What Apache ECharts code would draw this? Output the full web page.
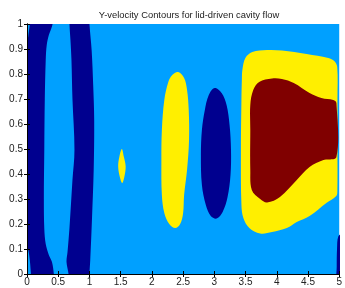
<!DOCTYPE html>
<html lang="en">
<head>
    <meta charset="UTF-8">
    <title>Y-velocity Contours</title>
    <script src="https://cdn.jsdelivr.net/npm/echarts@6/dist/echarts.min.js"></script>
    <style>
        html, body { margin: 0; padding: 0; background: #fff; }
        #main { width: 345px; height: 288px; }
    </style>
</head>
<body>
    <div id="main"></div>
    <script>
        // contour regions, in data coords [x, y]
        var xTicks = [0, 0.5, 1, 1.5, 2, 2.5, 3, 3.5, 4, 4.5, 5];
        var yTicks = [0, 0.1, 0.2, 0.3, 0.4, 0.5, 0.6, 0.7, 0.8, 0.9, 1];

        var leftBand = [[0.05, 1.05], [0.43, 1.05], [0.41, 1.0], [0.38, 0.976], [0.35, 0.956], [0.316, 0.916],
            [0.3, 0.856], [0.285, 0.7], [0.277, 0.5], [0.27, 0.3], [0.277, 0.18], [0.3, 0.12], [0.35, 0.076],
            [0.4, 0.048], [0.43, 0], [0.44, -0.05], [0.07, -0.05], [0.063, 0], [0.035, 0.076], [0, 0.11],
            [-0.05, 0.12], [-0.05, 0.92], [0, 0.93], [0.03, 0.97], [0.045, 1.0]];
        var secondBand = [[0.68, 1.05], [0.99, 1.05], [1.0, 1], [1.036, 0.892], [1.06, 0.756], [1.076, 0.616],
            [1.068, 0.416], [1.04, 0.216], [1.013, 0.056], [1.0, 0], [0.995, -0.05], [0.67, -0.05], [0.665, 0],
            [0.633, 0.048], [0.649, 0.088], [0.68, 0.184], [0.728, 0.376], [0.76, 0.496], [0.728, 0.7],
            [0.712, 0.856], [0.696, 0.936], [0.68, 1]];
        var smallSpot = [[1.519, 0.5], [1.55, 0.47], [1.58, 0.43], [1.56, 0.39], [1.525, 0.364], [1.49, 0.385],
            [1.46, 0.43], [1.48, 0.47]];
        var yellowLens = [[2.421, 0.808], [2.516, 0.784], [2.563, 0.736], [2.59, 0.656], [2.595, 0.536],
            [2.563, 0.416], [2.516, 0.316], [2.5, 0.244], [2.453, 0.2], [2.373, 0.184], [2.278, 0.2],
            [2.199, 0.244], [2.16, 0.316], [2.152, 0.456], [2.16, 0.576], [2.199, 0.696], [2.263, 0.768],
            [2.326, 0.796]];
        var blueLens = [[3.006, 0.744], [3.117, 0.724], [3.196, 0.676], [3.244, 0.596], [3.267, 0.496],
            [3.259, 0.396], [3.212, 0.308], [3.133, 0.248], [3.038, 0.222], [2.943, 0.232], [2.864, 0.276],
            [2.801, 0.356], [2.785, 0.476], [2.801, 0.576], [2.848, 0.656], [2.911, 0.716]];
        var yellowLobe = [[3.449, 0.816], [3.497, 0.864], [3.608, 0.888], [3.845, 0.896], [4.082, 0.894],
            [4.478, 0.88], [4.826, 0.864], [4.92, 0.852], [4.968, 0.828], [4.972, 0.7], [4.972, 0.5],
            [4.97, 0.33], [4.953, 0.312], [4.794, 0.284], [4.525, 0.232], [4.32, 0.208], [4.161, 0.184],
            [3.924, 0.168], [3.734, 0.162], [3.56, 0.184], [3.465, 0.224], [3.434, 0.276], [3.426, 0.496],
            [3.434, 0.696], [3.441, 0.776]];
        var redCore = [[3.576, 0.676], [3.623, 0.736], [3.718, 0.768], [3.924, 0.782], [4.082, 0.78],
            [4.272, 0.764], [4.525, 0.724], [4.715, 0.704], [4.905, 0.696], [4.955, 0.684], [4.955, 0.468],
            [4.747, 0.456], [4.525, 0.428], [4.32, 0.376], [4.051, 0.308], [3.845, 0.286], [3.734, 0.3],
            [3.6, 0.336], [3.576, 0.416], [3.576, 0.576]];
        var cornerBlue = [[5.05, 0.16], [4.985, 0.15], [4.965, 0.1], [4.96, 0.03], [4.96, -0.05], [5.05, -0.05]];

        var levelColors = ['#00008f', '#00a0ff', '#ffef00', '#800000'];
        // [region, level]
        var regions = [
            [leftBand, 0], [secondBand, 0], [blueLens, 0], [cornerBlue, 0],
            [smallSpot, 2], [yellowLens, 2], [yellowLobe, 2],
            [redCore, 3]
        ];

        var myChart = echarts.init(document.getElementById('main'));

        function makeSeries(pts, level) {
            return {
                type: 'custom',
                clip: true,
                silent: true,
                data: [[pts[0][0], pts[0][1]]],
                renderItem: function (params, api) {
                    var points = pts.map(function (p) { return api.coord(p); });
                    return {
                        type: 'polygon',
                        shape: { points: points, smooth: 0.35 },
                        style: { fill: levelColors[level], stroke: null }
                    };
                }
            };
        }

        var axisStyle = { lineStyle: { color: '#000', width: 1 } };
        var tickStyle = { inside: true, length: 3, lineStyle: { color: '#000' } };
        var labelStyle = { color: '#222', fontSize: 10, fontFamily: 'Liberation Sans, Arial, sans-serif' };

        var option = {
            animation: false,
            title: {
                text: 'Y-velocity Contours for lid-driven cavity flow',
                left: 184,
                top: 6,
                textAlign: 'center',
                textStyle: { fontSize: 9.4, fontWeight: 'normal', color: '#222', fontFamily: 'Liberation Sans, Arial, sans-serif' }
            },
            grid: {
                left: 27, right: 2, top: 24, bottom: 14,
                show: true, backgroundColor: levelColors[1], borderWidth: 0
            },
            xAxis: [{
                type: 'value', min: 0, max: 5, interval: 0.5, position: 'bottom', z: 10,
                axisLine: axisStyle, axisTick: tickStyle,
                axisLabel: Object.assign({ margin: 3, showMaxLabel: true, formatter: function (v) { return String(v); } }, labelStyle),
                splitLine: { show: false }
            }, {
                type: 'value', min: 0, max: 5, interval: 0.5, position: 'top', z: 10,
                axisLine: axisStyle, axisTick: tickStyle, axisLabel: { show: false },
                splitLine: { show: false }
            }],
            yAxis: [{
                type: 'value', min: 0, max: 1, interval: 0.1, position: 'left', z: 10,
                axisLine: axisStyle, axisTick: tickStyle,
                axisLabel: Object.assign({ margin: 4, formatter: function (v) { return String(+v.toFixed(1)); } }, labelStyle),
                splitLine: { show: false }
            }, {
                type: 'value', min: 0, max: 1, interval: 0.1, position: 'right', z: 10,
                axisLine: axisStyle, axisTick: tickStyle, axisLabel: { show: false },
                splitLine: { show: false }
            }],
            series: regions.map(function (r) { return makeSeries(r[0], r[1]); })
        };

        myChart.setOption(option);
    </script>
</body>
</html>
